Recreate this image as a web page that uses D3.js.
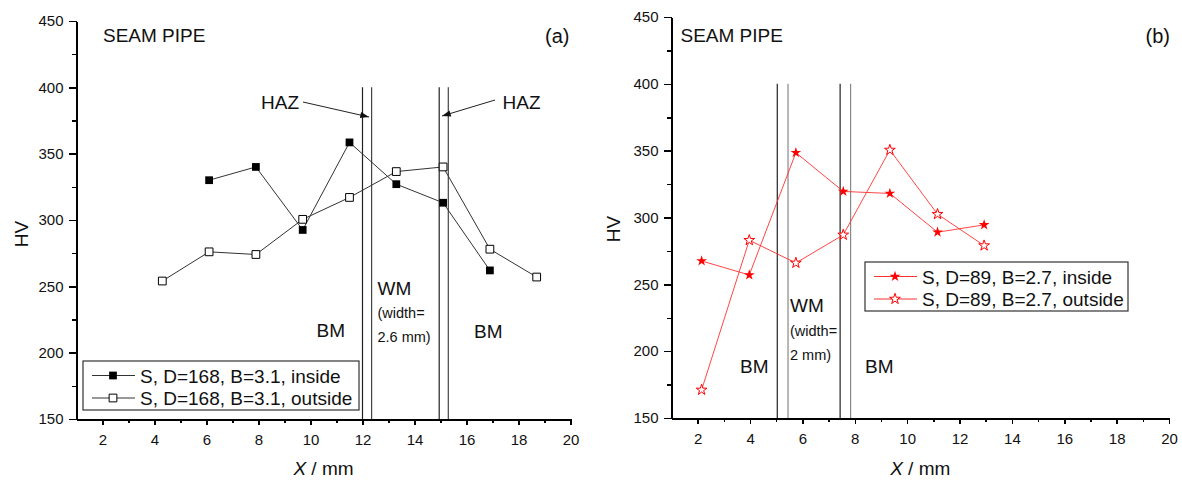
<!DOCTYPE html>
<html>
<head>
<meta charset="utf-8">
<script src="https://cdn.jsdelivr.net/npm/d3@7"></script>
<style>
  body { margin: 0; background: #fff; }
  svg text { font-family: "Liberation Sans", Arial, sans-serif; fill: #111; }
</style>
</head>
<body>
<svg id="chart" width="1182" height="480"></svg>
<script>
// shared ticks
const yTicks = [150, 200, 250, 300, 350, 400, 450];
const yMinor = [175, 225, 275, 325, 375, 425];
const xTicks = [2, 4, 6, 8, 10, 12, 14, 16, 18, 20];
const xMinor = [3, 5, 7, 9, 11, 13, 15, 17, 19];

// panel (a) : D=168, B=3.1
const xInsideA = [6.1, 7.9, 9.7, 11.5, 13.3, 15.1, 16.9];
const insideA = [330, 340, 292.5, 358.5, 327, 313, 262];
const xOutsideA = [4.3, 6.1, 7.9, 9.7, 11.5, 13.3, 15.1, 16.9, 18.7];
const outsideA = [254, 276, 274, 300.5, 317, 336.5, 340, 278, 257];
const zoneLinesA = [12.0, 12.35, 14.95, 15.3];
const legendA = ["S, D=168, B=3.1, inside", "S, D=168, B=3.1, outside"];

// panel (b) : D=89, B=2.7
const xB = [2.15, 3.97, 5.75, 7.56, 9.34, 11.16, 12.94];
const insideB = [267.5, 257, 348.5, 319.5, 318, 289, 294.5];
const outsideB = [171, 283, 266, 287, 350.5, 302.5, 279];
const zoneLinesB = [5.04, 5.45, 7.44, 7.84];
const legendB = ["S, D=89, B=2.7, inside", "S, D=89, B=2.7, outside"];

const svg = d3.select("#chart");

svg.append("defs").append("marker")
   .attr("id", "arrow")
   .attr("viewBox", "0 -4 10 8")
   .attr("refX", 10).attr("refY", 0)
   .attr("markerUnits", "userSpaceOnUse")
   .attr("markerWidth", 10).attr("markerHeight", 7)
   .attr("orient", "auto")
   .append("path").attr("d", "M0,-3.5L10,0L0,3.5Z").attr("fill", "#111");

function drawPanel(p) {
   let x = d3.scaleLinear().domain([1, 20]).range([p.left, p.right]);
   let y = d3.scaleLinear().domain([150, 450]).range([p.bottom, p.top]);
   let g = svg.append("g");

   // axes (left + bottom only)
   let ax = g.append("g").attr("shape-rendering", "crispEdges");
   ax.append("g").attr("transform", "translate(" + p.left + ",0)")
      .call(d3.axisLeft(y).tickValues(yMinor).tickSize(5).tickFormat("").tickSizeOuter(0));
   ax.append("g").attr("transform", "translate(" + p.left + ",0)")
      .call(d3.axisLeft(y).tickValues(yTicks).tickSize(8).tickPadding(5).tickSizeOuter(0));
   ax.append("g").attr("transform", "translate(0," + p.bottom + ")")
      .call(d3.axisBottom(x).tickValues(xMinor).tickSize(4).tickFormat("").tickSizeOuter(0));
   ax.append("g").attr("transform", "translate(0," + p.bottom + ")")
      .call(d3.axisBottom(x).tickValues(xTicks).tickSize(6).tickPadding(9).tickSizeOuter(0));
   ax.selectAll(".domain").attr("stroke", "#000").attr("stroke-width", 2);
   ax.selectAll(".tick line").attr("stroke", "#000").attr("stroke-width", 1.5);
   ax.selectAll(".tick text").style("font-size", "15px").attr("fill", "#000");

   // zone boundaries
   g.selectAll("line.zone")
      .data(p.zones)
      .join("line")
         .attr("class", "zone")
         .attr("x1", d => x(d)).attr("x2", d => x(d))
         .attr("y1", y(400)).attr("y2", p.bottom)
         .attr("stroke", (d, i) => i % 2 ? p.zoneAlt : "#222")
         .attr("stroke-width", 1.2);

   // series
   let line = d3.line().x(d => x(d[0])).y(d => y(d[1]));
   p.series.forEach(function(s) {
      let pts = d3.zip(s.xs, s.ys);
      g.append("path").datum(pts)
         .attr("d", line)
         .attr("fill", "none")
         .attr("stroke", p.lineColor)
         .attr("stroke-width", p.lineWidth);
      g.selectAll(null).data(pts).join("path")
         .attr("transform", d => "translate(" + x(d[0]) + "," + y(d[1]) + ")")
         .attr("d", d3.symbol(p.symbol, p.symSize))
         .attr("fill", s.filled ? p.color : "#fff")
         .attr("stroke", p.color)
         .attr("stroke-width", s.filled ? 0 : 1);
   });

   // legend
   let lg = g.append("g");
   lg.append("rect")
      .attr("x", p.legend.x).attr("y", p.legend.y)
      .attr("width", p.legend.w).attr("height", p.legend.h)
      .attr("fill", "#fff").attr("stroke", "#333").attr("stroke-width", 1.2);
   p.series.forEach(function(s, i) {
      let ry = p.legend.y + 14.5 + i * 22.5;
      lg.append("line")
         .attr("x1", p.legend.x + 9).attr("x2", p.legend.x + 52)
         .attr("y1", ry).attr("y2", ry)
         .attr("stroke", p.lineColor).attr("stroke-width", 1);
      lg.append("path")
         .attr("transform", "translate(" + (p.legend.x + 30) + "," + ry + ")")
         .attr("d", d3.symbol(p.symbol, p.symSize))
         .attr("fill", s.filled ? p.color : "#fff")
         .attr("stroke", p.color)
         .attr("stroke-width", s.filled ? 0 : 1);
      lg.append("text")
         .attr("x", p.legend.x + 57).attr("y", ry + 7.3)
         .style("font-size", "19px")
         .text(s.name);
   });

   // labels
   p.labels.forEach(function(l) {
      g.append("text")
         .attr("x", l.x).attr("y", l.y)
         .style("font-size", l.size + "px")
         .text(l.t);
   });
   (p.arrows || []).forEach(function(a) {
      g.append("line")
         .attr("x1", a[0]).attr("y1", a[1]).attr("x2", a[2]).attr("y2", a[3])
         .attr("stroke", "#222").attr("stroke-width", 1)
         .attr("marker-end", "url(#arrow)");
   });

   // axis titles
   let xt = g.append("text")
      .attr("x", (p.left + p.right) / 2).attr("y", 475)
      .attr("text-anchor", "middle")
      .style("font-size", "19px");
   xt.append("tspan").style("font-style", "italic").text("X");
   xt.append("tspan").text(" / mm");
   g.append("text")
      .attr("transform", "translate(" + p.hvX + "," + p.hvY + ") rotate(-90)")
      .attr("text-anchor", "middle")
      .attr("dy", "0.35em")
      .style("font-size", "19px")
      .text("HV");
}

drawPanel({
   left: 76.5, right: 570.5, top: 21, bottom: 419,
   zones: zoneLinesA, zoneAlt: "#444",
   color: "#000", lineColor: "#333", lineWidth: 1,
   symbol: d3.symbolSquare, symSize: 60,
   series: [
      {xs: xInsideA, ys: insideA, filled: true, name: legendA[0]},
      {xs: xOutsideA, ys: outsideA, filled: false, name: legendA[1]}
   ],
   legend: {x: 83, y: 361, w: 276, h: 49},
   hvX: 21, hvY: 234,
   labels: [
      {t: "SEAM PIPE", x: 103, y: 41.7, size: 19},
      {t: "(a)", x: 545, y: 42.5, size: 20},
      {t: "HAZ", x: 261, y: 109, size: 19},
      {t: "HAZ", x: 502.5, y: 109, size: 19},
      {t: "BM", x: 316.5, y: 336.5, size: 19},
      {t: "BM", x: 474, y: 338, size: 19},
      {t: "WM", x: 377.5, y: 294.5, size: 19},
      {t: "(width=", x: 377.5, y: 318, size: 14.5},
      {t: "2.6 mm)", x: 377.5, y: 341.5, size: 14.5}
   ],
   arrows: [[303, 102, 369, 117], [495, 100, 442, 116]]
});

drawPanel({
   left: 671.5, right: 1169, top: 17, bottom: 418,
   zones: zoneLinesB, zoneAlt: "#888",
   color: "#ff0000", lineColor: "#ff3030", lineWidth: 0.9,
   symbol: d3.symbolStar, symSize: 36,
   series: [
      {xs: xB, ys: insideB, filled: true, name: legendB[0]},
      {xs: xB, ys: outsideB, filled: false, name: legendB[1]}
   ],
   legend: {x: 865, y: 262, w: 263, h: 49},
   hvX: 613, hvY: 229,
   labels: [
      {t: "SEAM PIPE", x: 680.5, y: 41.7, size: 19},
      {t: "(b)", x: 1145.5, y: 43, size: 20},
      {t: "BM", x: 740, y: 372.5, size: 19},
      {t: "BM", x: 865, y: 373, size: 19},
      {t: "WM", x: 790, y: 311.5, size: 19},
      {t: "(width=", x: 790, y: 336, size: 14.5},
      {t: "2 mm)", x: 790, y: 360, size: 14.5}
   ]
});
</script>
</body>
</html>
